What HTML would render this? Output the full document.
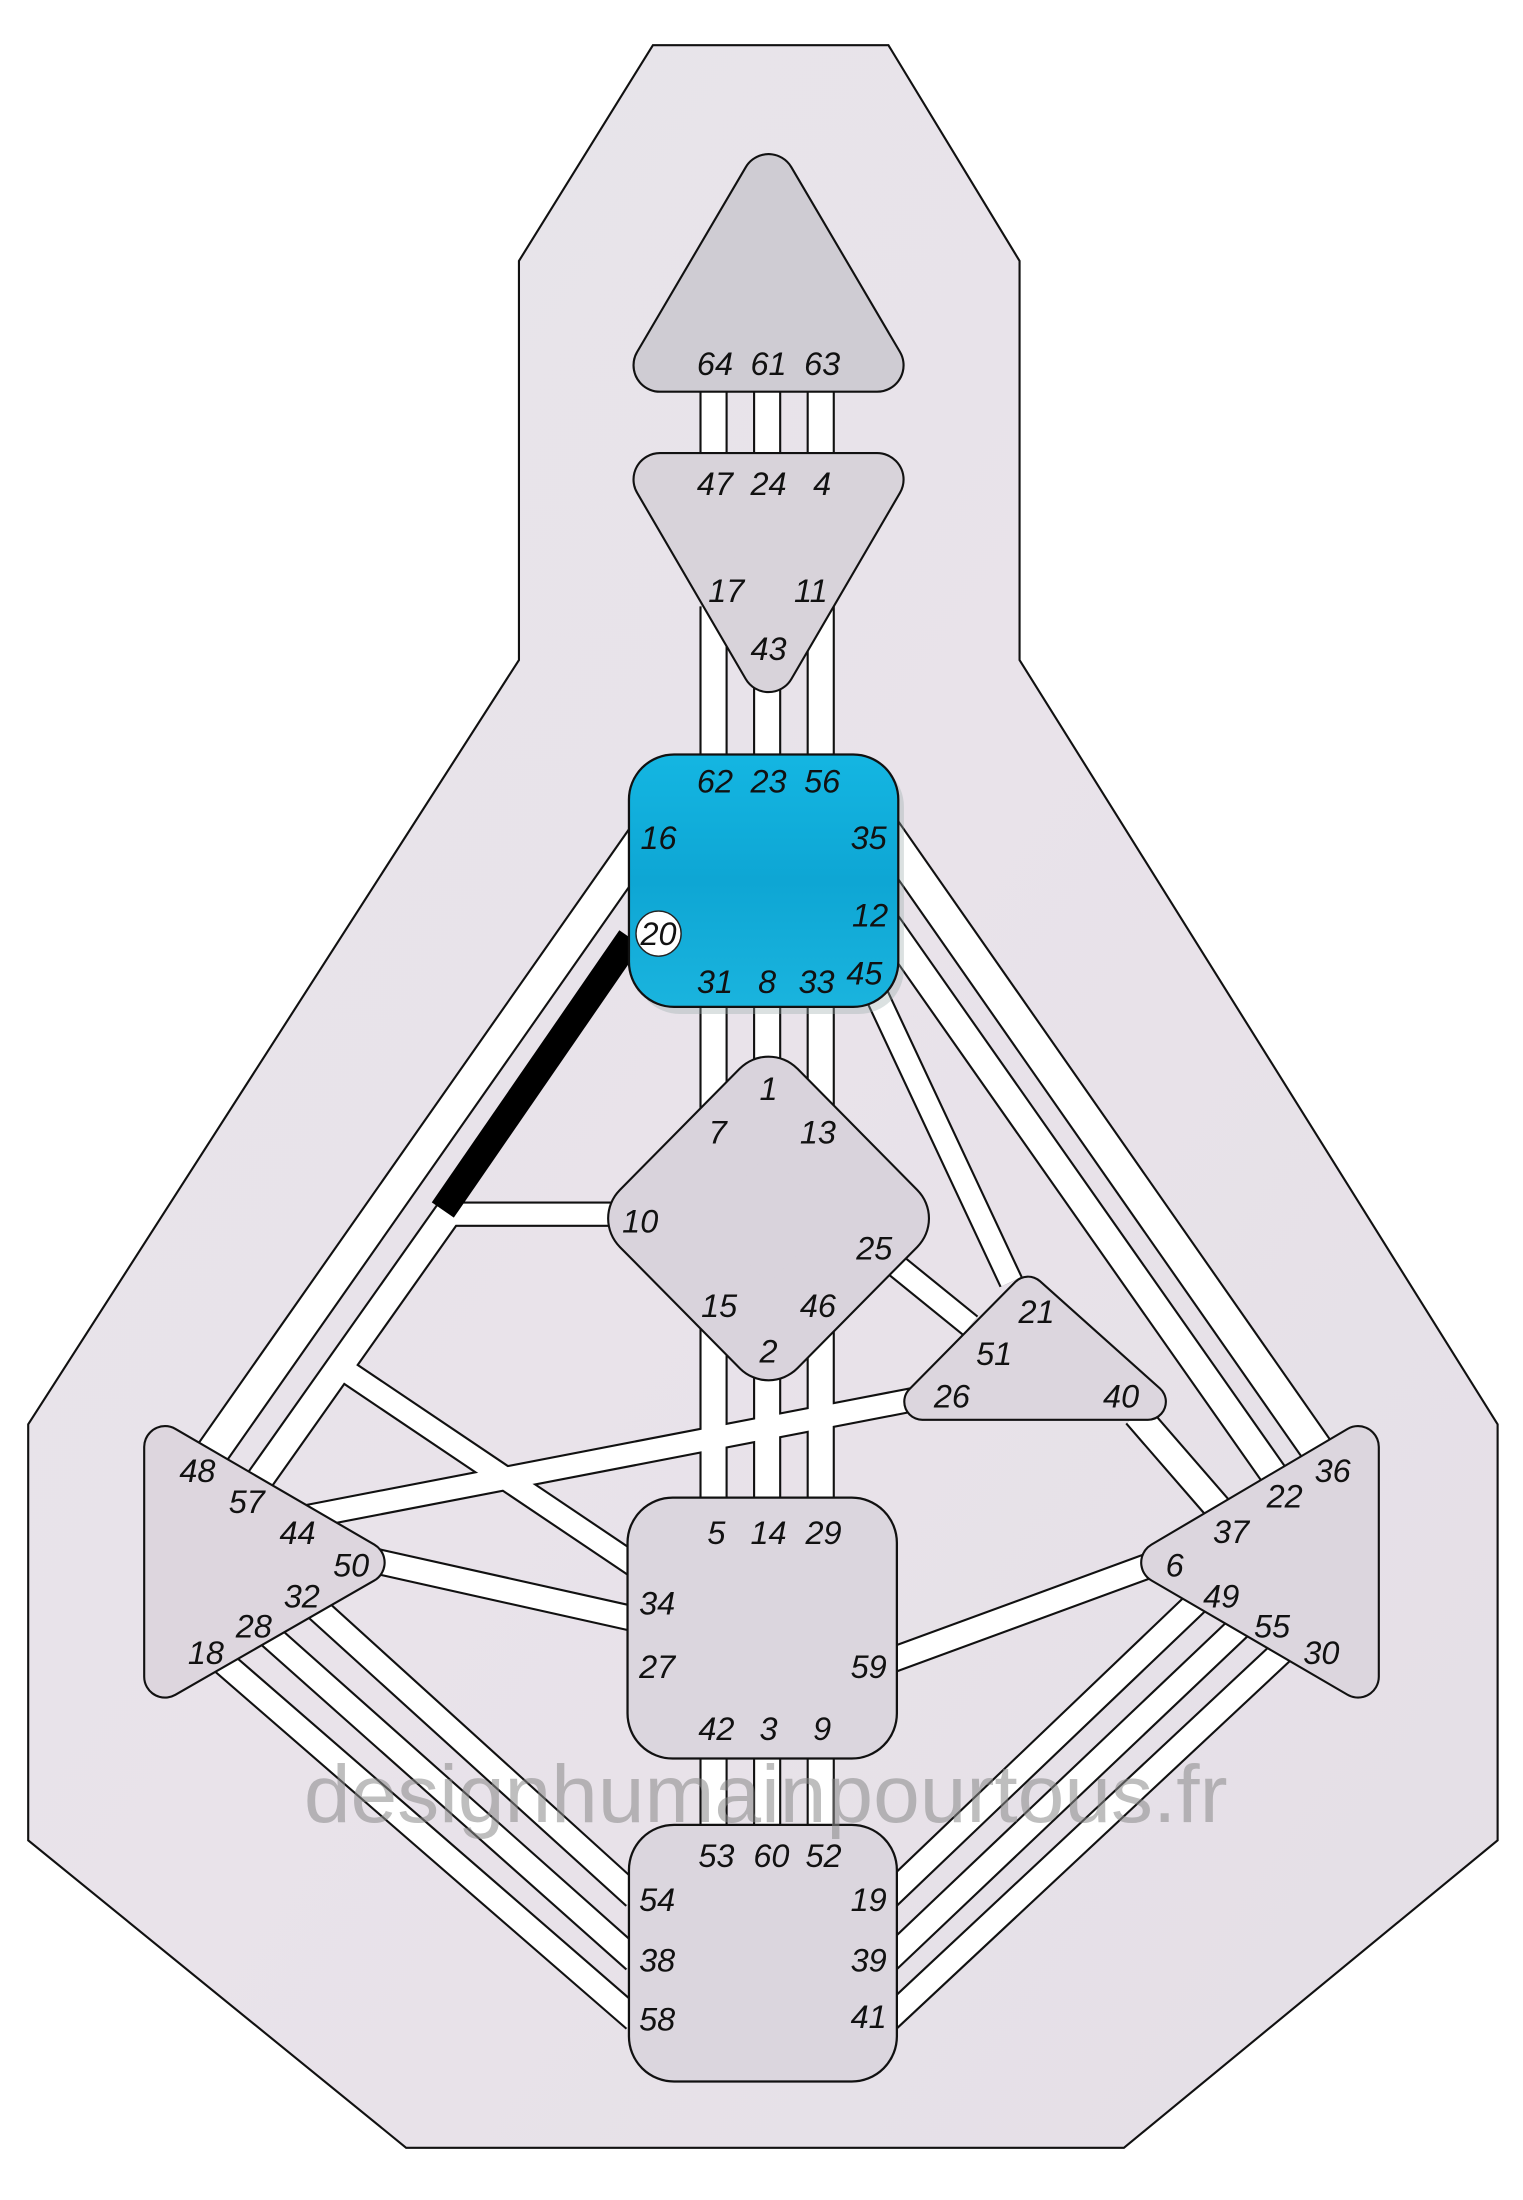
<!DOCTYPE html>
<html><head><meta charset="utf-8"><style>
html,body{margin:0;padding:0;background:#fff;}
svg{display:block;}
text{font-family:"Liberation Sans",sans-serif;font-style:italic;font-size:23px;fill:#111;text-anchor:middle;}
</style></head><body>
<svg width="1523" height="2200" viewBox="0 0 1080 1560" xmlns="http://www.w3.org/2000/svg">
<defs>
<linearGradient id="bg" x1="0" y1="0" x2="1" y2="1"><stop offset="0" stop-color="#e6e4ea"/><stop offset="0.5" stop-color="#e9e3ea"/><stop offset="1" stop-color="#e4dfe6"/></linearGradient>
<linearGradient id="cy" x1="0" y1="0" x2="0" y2="1"><stop offset="0" stop-color="#14b6e2"/><stop offset="0.5" stop-color="#0ea6d4"/><stop offset="1" stop-color="#1ab4de"/></linearGradient>
</defs>
<polygon points="463,32 630,32 723,185 723,468 1062,1010 1062,1305 797,1523 288,1523 20,1305 20,1010 368,468 368,185" fill="url(#bg)" stroke="#111" stroke-width="1.5"/>

<g stroke="#111" stroke-linecap="butt">
<line x1="506" y1="270" x2="506" y2="330" stroke-width="20"/>
<line x1="544" y1="270" x2="544" y2="330" stroke-width="20"/>
<line x1="582" y1="270" x2="582" y2="330" stroke-width="20"/>
<line x1="506" y1="430" x2="506" y2="540" stroke-width="20"/>
<line x1="544" y1="470" x2="544" y2="540" stroke-width="20"/>
<line x1="582" y1="430" x2="582" y2="540" stroke-width="20"/>
<line x1="506" y1="705" x2="506" y2="800" stroke-width="20"/>
<line x1="544" y1="705" x2="544" y2="760" stroke-width="20"/>
<line x1="582" y1="705" x2="582" y2="800" stroke-width="20"/>
<line x1="506" y1="930" x2="506" y2="1066" stroke-width="20"/>
<line x1="544" y1="970" x2="544" y2="1066" stroke-width="20"/>
<line x1="582" y1="930" x2="582" y2="1066" stroke-width="20"/>
<line x1="506" y1="1235" x2="506" y2="1300" stroke-width="20"/>
<line x1="544" y1="1235" x2="544" y2="1300" stroke-width="20"/>
<line x1="582" y1="1235" x2="582" y2="1300" stroke-width="20"/>
<line x1="466" y1="580" x2="140" y2="1045" stroke-width="25"/>
<line x1="318" y1="860" x2="178" y2="1058" stroke-width="21"/>
<line x1="312" y1="861" x2="440" y2="861" stroke-width="18"/>
<line x1="245" y1="972" x2="450" y2="1110" stroke-width="18"/>
<line x1="215" y1="1076" x2="650" y2="992" stroke-width="18"/>
<line x1="262" y1="1106" x2="450" y2="1148" stroke-width="19"/>
<line x1="202" y1="1120" x2="450" y2="1345" stroke-width="19"/>
<line x1="170" y1="1141" x2="450" y2="1390" stroke-width="19"/>
<line x1="139" y1="1162" x2="450" y2="1432" stroke-width="19"/>
<line x1="621" y1="580" x2="945" y2="1044" stroke-width="25"/>
<line x1="622" y1="645" x2="912" y2="1058" stroke-width="21"/>
<line x1="612" y1="685" x2="717" y2="909" stroke-width="18"/>
<line x1="635" y1="897" x2="688" y2="940" stroke-width="18"/>
<line x1="806" y1="1003" x2="865" y2="1071" stroke-width="21"/>
<line x1="630" y1="1178" x2="840" y2="1101" stroke-width="19"/>
<line x1="630" y1="1345" x2="877" y2="1109" stroke-width="19"/>
<line x1="630" y1="1390" x2="907" y2="1127" stroke-width="19"/>
<line x1="630" y1="1432" x2="937" y2="1145" stroke-width="19"/>
</g>
<g stroke="#fff" stroke-linecap="butt">
<line x1="506" y1="270" x2="506" y2="330" stroke-width="17"/>
<line x1="544" y1="270" x2="544" y2="330" stroke-width="17"/>
<line x1="582" y1="270" x2="582" y2="330" stroke-width="17"/>
<line x1="506" y1="430" x2="506" y2="540" stroke-width="17"/>
<line x1="544" y1="470" x2="544" y2="540" stroke-width="17"/>
<line x1="582" y1="430" x2="582" y2="540" stroke-width="17"/>
<line x1="506" y1="705" x2="506" y2="800" stroke-width="17"/>
<line x1="544" y1="705" x2="544" y2="760" stroke-width="17"/>
<line x1="582" y1="705" x2="582" y2="800" stroke-width="17"/>
<line x1="506" y1="930" x2="506" y2="1066" stroke-width="17"/>
<line x1="544" y1="970" x2="544" y2="1066" stroke-width="17"/>
<line x1="582" y1="930" x2="582" y2="1066" stroke-width="17"/>
<line x1="506" y1="1235" x2="506" y2="1300" stroke-width="17"/>
<line x1="544" y1="1235" x2="544" y2="1300" stroke-width="17"/>
<line x1="582" y1="1235" x2="582" y2="1300" stroke-width="17"/>
<line x1="466" y1="580" x2="140" y2="1045" stroke-width="22"/>
<line x1="318" y1="860" x2="178" y2="1058" stroke-width="18"/>
<line x1="312" y1="861" x2="440" y2="861" stroke-width="15"/>
<line x1="245" y1="972" x2="450" y2="1110" stroke-width="15"/>
<line x1="215" y1="1076" x2="650" y2="992" stroke-width="15"/>
<line x1="262" y1="1106" x2="450" y2="1148" stroke-width="16"/>
<line x1="202" y1="1120" x2="450" y2="1345" stroke-width="16"/>
<line x1="170" y1="1141" x2="450" y2="1390" stroke-width="16"/>
<line x1="139" y1="1162" x2="450" y2="1432" stroke-width="16"/>
<line x1="621" y1="580" x2="945" y2="1044" stroke-width="22"/>
<line x1="622" y1="645" x2="912" y2="1058" stroke-width="18"/>
<line x1="612" y1="685" x2="717" y2="909" stroke-width="15"/>
<line x1="635" y1="897" x2="688" y2="940" stroke-width="15"/>
<line x1="806" y1="1003" x2="865" y2="1071" stroke-width="18"/>
<line x1="630" y1="1178" x2="840" y2="1101" stroke-width="16"/>
<line x1="630" y1="1345" x2="877" y2="1109" stroke-width="16"/>
<line x1="630" y1="1390" x2="907" y2="1127" stroke-width="16"/>
<line x1="630" y1="1432" x2="937" y2="1145" stroke-width="16"/>
</g>
<line x1="447" y1="665" x2="314" y2="858" stroke="#000" stroke-width="19"/>

<g stroke-linejoin="round">
<polygon points="545,128 622,259 468,259" fill="#111" stroke="#111" stroke-width="39"/>
<polygon points="545,128 622,259 468,259" fill="#cfccd3" stroke="#cfccd3" stroke-width="36"/>
<polygon points="468,340 622,340 545,472" fill="#111" stroke="#111" stroke-width="39"/>
<polygon points="468,340 622,340 545,472" fill="#d8d3da" stroke="#d8d3da" stroke-width="36"/>
<polygon points="460,864 545,778 630,864 545,950" fill="#111" stroke="#111" stroke-width="59"/>
<polygon points="460,864 545,778 630,864 545,950" fill="#d9d3dc" stroke="#d9d3dc" stroke-width="56"/>
<polygon points="729,918 814,994 654,994" fill="#111" stroke="#111" stroke-width="27"/>
<polygon points="729,918 814,994 654,994" fill="#dcd6de" stroke="#dcd6de" stroke-width="24"/>
<polygon points="117,1026 258,1108 117,1189" fill="#111" stroke="#111" stroke-width="31"/>
<polygon points="117,1026 258,1108 117,1189" fill="#ddd6de" stroke="#ddd6de" stroke-width="28"/>
<polygon points="963,1026 824,1108 963,1189" fill="#111" stroke="#111" stroke-width="31"/>
<polygon points="963,1026 824,1108 963,1189" fill="#dcd6de" stroke="#dcd6de" stroke-width="28"/>
</g>
<rect x="445" y="1062" width="191" height="185" rx="32" fill="#dbd6de" stroke="#111" stroke-width="1.6"/>
<rect x="446" y="1294" width="190" height="182" rx="32" fill="#dbd6de" stroke="#111" stroke-width="1.6"/>
<rect x="450" y="540" width="191" height="179" rx="32" fill="#9aa" opacity="0.35"/>
<rect x="446" y="535" width="191" height="179" rx="32" fill="url(#cy)" stroke="#111" stroke-width="1.6"/>

<g>
<text x="507" y="266">64</text><text x="545" y="266">61</text><text x="583" y="266">63</text>
<text x="507" y="351">47</text><text x="545" y="351">24</text><text x="583" y="351">4</text>
<text x="515" y="427">17</text><text x="575" y="427">11</text><text x="545" y="468">43</text>
<text x="507" y="562">62</text><text x="545" y="562">23</text><text x="583" y="562">56</text>
<text x="467" y="602">16</text><text x="616" y="602">35</text>
<circle cx="467" cy="662" r="16" fill="#fff" stroke="#222" stroke-width="1"/>
<text x="467" y="670">20</text><text x="617" y="657">12</text>
<text x="507" y="704">31</text><text x="544" y="704">8</text><text x="579" y="704">33</text><text x="613" y="698">45</text>
<text x="545" y="780">1</text><text x="509" y="811">7</text><text x="580" y="811">13</text>
<text x="454" y="874">10</text><text x="620" y="893">25</text>
<text x="510" y="934">15</text><text x="580" y="934">46</text><text x="545" y="966">2</text>
<text x="735" y="938">21</text><text x="705" y="968">51</text><text x="675" y="998">26</text><text x="795" y="998">40</text>
<text x="508" y="1095">5</text><text x="545" y="1095">14</text><text x="584" y="1095">29</text>
<text x="466" y="1145">34</text><text x="466" y="1190">27</text><text x="616" y="1190">59</text>
<text x="508" y="1234">42</text><text x="545" y="1234">3</text><text x="583" y="1234">9</text>
<text x="508" y="1324">53</text><text x="547" y="1324">60</text><text x="584" y="1324">52</text>
<text x="466" y="1355">54</text><text x="466" y="1398">38</text><text x="466" y="1440">58</text>
<text x="616" y="1355">19</text><text x="616" y="1398">39</text><text x="616" y="1438">41</text>
<text x="140" y="1051">48</text><text x="175" y="1073">57</text><text x="211" y="1095">44</text><text x="249" y="1118">50</text>
<text x="214" y="1140">32</text><text x="180" y="1161">28</text><text x="146" y="1180">18</text>
<text x="945" y="1051">36</text><text x="911" y="1069">22</text><text x="873" y="1094">37</text><text x="833" y="1118">6</text>
<text x="866" y="1140">49</text><text x="902" y="1161">55</text><text x="937" y="1180">30</text>
</g>
<text x="543" y="1292" textLength="655" lengthAdjust="spacingAndGlyphs" style="font-style:normal;font-size:58px;fill:#8a8a8a;opacity:0.55">designhumainpourtous.fr</text>
</svg>
</body></html>
